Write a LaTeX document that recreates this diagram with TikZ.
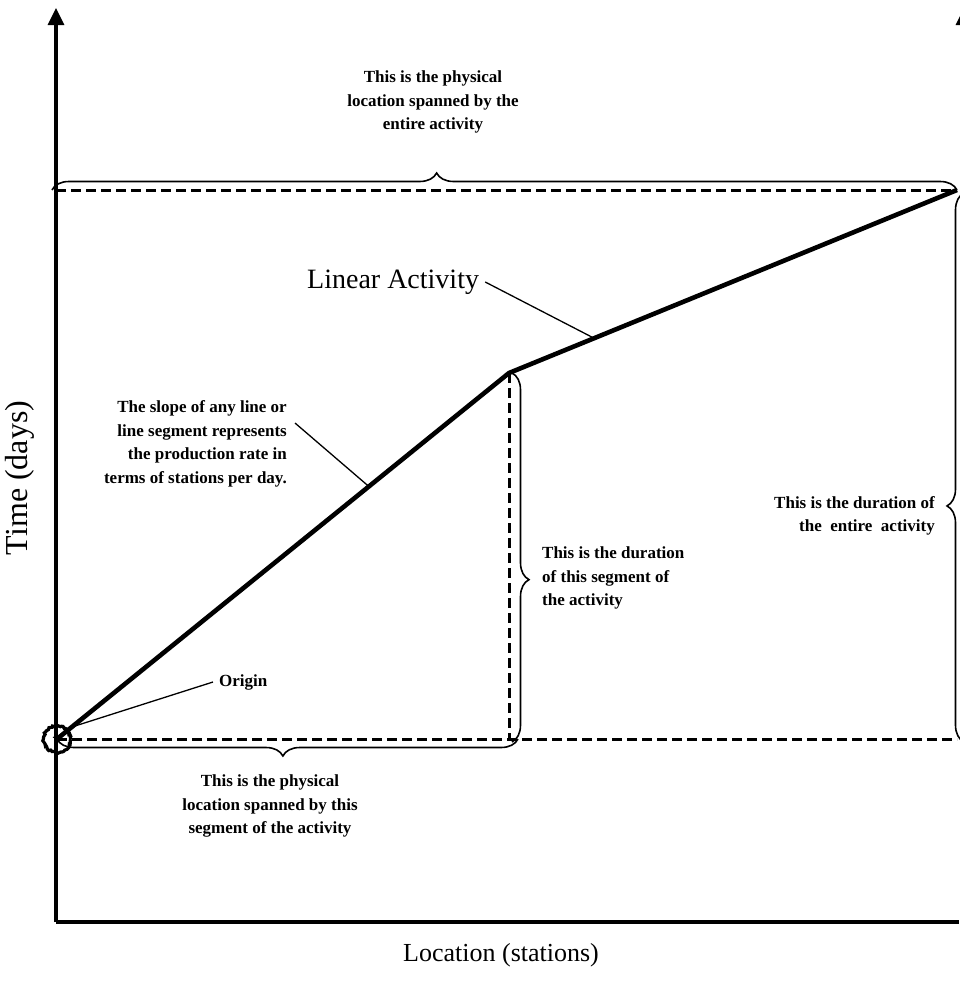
\documentclass[tikz,border=0pt]{standalone}
\usepackage{fontspec}
\setmainfont{Liberation Serif}
\usetikzlibrary{arrows.meta,calc,decorations.pathreplacing,decorations.pathmorphing}
\begin{document}
\begin{tikzpicture}[x=1pt,y=-1pt,
  axis/.style={line width=3.2pt},
  activity/.style={line width=4.6pt, line join=round},
  guide/.style={line width=3pt, dash pattern=on 10pt off 5pt},
  bracket/.style={decorate, line width=1.6pt, decoration={brace, amplitude=17pt, aspect=#1}},
  leader/.style={line width=1.3pt},
  note/.style={font=\fontsize{17}{23.5}\selectfont\bfseries, inner sep=0pt},
  title/.style={font=\fontsize{26}{28}\selectfont, inner sep=0pt},
  ]
\useasboundingbox (0,0) rectangle (959,988);

% key points of the activity
\coordinate (O) at (57,739);
\coordinate (K) at (509,373);
\coordinate (E) at (957,190);

% axes
\coordinate (ytop) at (56,8);
\coordinate (ybot) at (56,922);
\coordinate (xend) at (959,922);
\draw[axis, -{Triangle[length=17pt,width=16pt]}] (ybot) -- (ytop);
\draw[axis] (ybot) -- (xend);
% second vertical axis at the right edge
\coordinate (rbot) at (964,60);
\coordinate (rtop) at (964,8);
\draw[axis, -{Triangle[length=17pt,width=16pt]}] (rbot) -- (rtop);

% reference lines
\draw[guide] (E -| ytop) -- (E);
\draw[guide] (O) -- (O -| E);
\draw[guide] (K) -- (K |- O);

% braces
\coordinate (tb1) at (52,190);
\coordinate (tb2) at (957,190);
\draw[bracket=0.425] (tb1) -- (tb2);
\coordinate (bb1) at (57,739);
\coordinate (bb2) at (518,739);
\draw[bracket=0.51] (bb2) -- (bb1);
\coordinate (sb1) at (512,373);
\coordinate (sb2) at (512,742);
\draw[bracket=0.56] (sb1) -- (sb2);
\coordinate (rb1) at (964,193);
\coordinate (rb2) at (964,742);
\draw[bracket=0.43] (rb2) -- (rb1);

% the activity
\draw[activity] (O) -- (K) -- (E);

% origin marker
\node[circle, minimum size=27pt, inner sep=0pt, draw, line width=3.2pt,
      decorate, decoration={random steps, segment length=1.5pt, amplitude=0.9pt}] (orig) at (O) {};
\node[font=\fontsize{17}{17}\selectfont\bfseries, inner sep=0pt] (plus) at (O) {+};

% labels
\node[title] (loc) at (501,955) {Location (stations)};
\node[title, font=\fontsize{32}{34}\selectfont, rotate=90] (time) at (20,478) {Time (days)};
\node[title, font=\fontsize{28}{30}\selectfont, anchor=west] (lin) at (307,282) {Linear Activity};
\coordinate (linhit) at ($(K)!0.19!(E)$);
\draw[leader] ([xshift=6pt]lin.east) -- (linhit);

\node[note, align=center] (topnote) at (433,102) {This is the physical\\location spanned by the\\entire activity};
\node[note, align=center] (botnote) at (270,806) {This is the physical\\location spanned by this\\segment of the activity};
\node[note, align=right, anchor=east] (slope) at (287,444) {The slope of any line or\\line segment represents\\the production rate in\\terms of stations per day.};
\coordinate (slopehit) at ($(O)!0.69!(K)$);
\draw[leader] (295,423) -- (slopehit);
\node[note, align=left, anchor=west] (segdur) at (542,578) {This is the duration\\of this segment of\\the activity};
\node[note, align=right, anchor=east] (alldur) at (935,516) {This is the duration of\\the\ \ entire\ \ activity};
\node[note, anchor=west] (orglab) at (219,682) {Origin};
\draw[leader] (orglab.west) ++(-6pt,0) -- (orig.north east);
\end{tikzpicture}
\end{document}
